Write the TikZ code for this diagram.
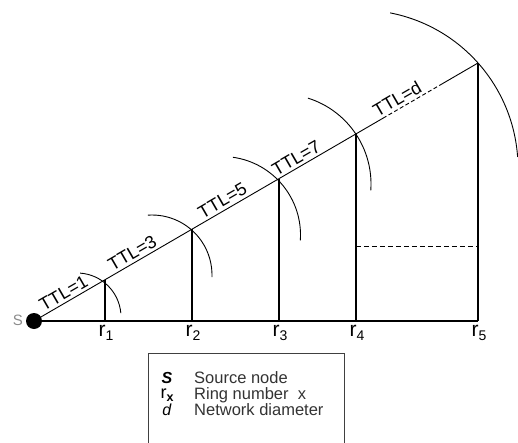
\documentclass[tikz,border=0pt]{standalone}
\usepackage{fontspec}
\setmainfont{Liberation Sans}
\usetikzlibrary{calc}
\begin{document}
\begin{tikzpicture}[x=1pt,y=1pt,
  thinline/.style={line width=0.9pt},
  thickline/.style={line width=1.8pt},
  ringarc/.style={line width=0.9pt},
  ttl/.style={font=\fontsize{18}{18}\selectfont, sloped, above, inner sep=3pt},
  rlab/.style={font=\fontsize{21}{21}\selectfont, anchor=north, inner sep=0pt},
  legtext/.style={font=\fontsize{16.5}{16.5}\selectfont, anchor=west, inner sep=0pt, text=black!80},
  legsym/.style={font=\fontsize{16}{16}\selectfont, inner sep=0pt}
]
\useasboundingbox (0,0) rectangle (518,442);
\newcommand{\rsub}[1]{r\raisebox{-4pt}{\fontsize{14}{14}\selectfont #1}}
% source node
\node[circle, fill=black, minimum size=16pt, inner sep=0pt] (S) at (34,121) {};
\node[font=\fontsize{15}{15}\selectfont, text=black!45, inner sep=0pt] (Slab) at (18,122) {S};
\coordinate (T) at (478,379);
\coordinate (hh) at (0,195.5);
% points on the diagonal
\path (S.center) -- (T)
  coordinate[pos=0.160] (p1)
  coordinate[pos=0.356] (p2)
  coordinate[pos=0.552] (p3)
  coordinate[pos=0.725] (p4)
  coordinate[pos=0.786] (d1)
  coordinate[pos=0.914] (d2)
  node[ttl, pos=0.077] (l1) {TTL=1}
  node[ttl, pos=0.232] (l3) {TTL=3}
  node[ttl, pos=0.435] (l5) {TTL=5}
  node[ttl, pos=0.601] (l7) {TTL=7}
  node[ttl, pos=0.829] (ld) {TTL=d};
% diagonal
\draw[thinline] (S.center) -- (d1);
\draw[thinline, dash pattern=on 4pt off 2.5pt] (d1) -- (d2);
\draw[thinline] (d2) -- (T);
% baseline
\draw[thickline] (S.center) -- (T |- S.center);
% verticals
\foreach \p in {p1,p2,p3,p4,T}{
  \draw[thickline] (\p) -- (\p |- S.center);
}
% dashed horizontal
\draw[thinline, dash pattern=on 5pt off 3pt] (p4 |- hh) -- (T |- hh);
% ring labels
\node[rlab] (r1) at ($(p1 |- S.center)+(1,-4)$) {\rsub{1}};
\node[rlab] (r2) at ($(p2 |- S.center)+(1,-4)$) {\rsub{2}};
\node[rlab] (r3) at ($(p3 |- S.center)+(1,-4)$) {\rsub{3}};
\node[rlab] (r4) at ($(p4 |- S.center)+(1,-4)$) {\rsub{4}};
\node[rlab] (r5) at ($(T |- S.center)+(1,-4)$) {\rsub{5}};
% arcs
\draw[ringarc] ([shift={(86:44)}]77,125) arc[start angle=86, end angle=5, radius=44];
\draw[ringarc] ([shift={(94:60)}]152,167) arc[start angle=94, end angle=-2, radius=60];
\draw[ringarc] ([shift={(82:78.5)}]222,207) arc[start angle=82, end angle=-4, radius=78.5];
\draw[ringarc] ([shift={(72.6:90)}]281,258) arc[start angle=72.6, end angle=-4, radius=90];
\draw[ringarc] ([shift={(79:158)}]360,274) arc[start angle=79, end angle=4, radius=158];
% legend
\node[draw=black!75, line width=0.9pt, minimum width=196pt, minimum height=100pt, anchor=north west, inner sep=0pt] (legend) at (148,89) {};
\node[legsym] (ls) at (167,64) {\textbf{\textit{S}}};
\node[legtext] (lst) at (194,64) {Source node};
\node[legsym] (lr) at (167,47) {\fontsize{18}{18}\selectfont r\raisebox{-3pt}{\fontsize{12.5}{12.5}\selectfont\bfseries x}};
\node[legtext] (lrt) at (194,47) {Ring number\ \ x};
\node[legsym] (ld2) at (167,32) {\textit{d}};
\node[legtext] (ldt) at (194,32) {Network diameter};
\end{tikzpicture}
\end{document}
